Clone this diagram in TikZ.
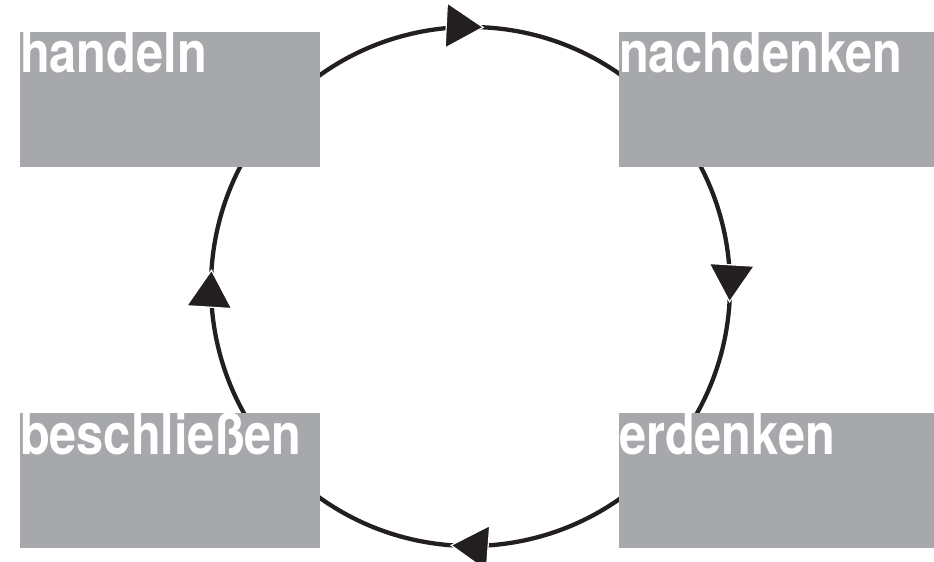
\documentclass[tikz,border=0pt]{standalone}
\usepackage{fontspec}
\usetikzlibrary{positioning,decorations.markings}
\newfontfamily\boxfont{TeX Gyre Heros}[FakeStretch=0.855]
\definecolor{boxgray}{HTML}{A7A8AB}
\definecolor{ink}{HTML}{231F20}
\newcommand{\cyclearrow}{\draw[white, line width=1.2pt, fill=ink] (0,0) -- (-37pt,22.5pt) -- (-37pt,-22.5pt) -- cycle;}
\tikzset{
  stagebox/.style={rectangle, fill=boxgray, inner sep=0pt, minimum height=135pt},
  boxtitle/.style={text=white, inner sep=0pt, font=\boxfont\bfseries\fontsize{57}{60}\selectfont},
  cycleline/.style={draw=ink, line width=4.3pt, postaction={decorate},
    decoration={markings,
      mark=at position 0.1328 with {\cyclearrow},
      mark=at position 0.3844 with {\cyclearrow},
      mark=at position 0.6369 with {\cyclearrow},
      mark=at position 0.8850 with {\cyclearrow}}}
}
\begin{document}
\begin{tikzpicture}[x=1pt,y=1pt]
\useasboundingbox (0,0) rectangle (934,562);
\coordinate (mid) at (470.5,275.5);
% Kreislauf im Uhrzeigersinn, beginnt unter dem Kasten links oben
\draw[cycleline] ([shift={(135:259.5)}]mid) arc[start angle=135, end angle=-225, radius=259.5];
\node[stagebox, minimum width=300pt] (handeln) at (170,462.5) {};
\node[stagebox, minimum width=315pt] (nachdenken) at (776.5,462.5) {};
\node[stagebox, minimum width=300pt] (beschliessen) at (170,81) {};
\node[stagebox, minimum width=315pt] (erdenken) at (776.5,81) {};
\node[boxtitle, anchor=base west] (handeln-t) at ([yshift=-41pt]handeln.north west) {handeln};
\node[boxtitle, anchor=base west] (nachdenken-t) at ([yshift=-41pt]nachdenken.north west) {nachdenken};
\node[boxtitle, anchor=base west] (beschliessen-t) at ([yshift=-41pt]beschliessen.north west) {beschließen};
\node[boxtitle, anchor=base west] (erdenken-t) at ([yshift=-41pt]erdenken.north west) {erdenken};
\end{tikzpicture}
\end{document}
